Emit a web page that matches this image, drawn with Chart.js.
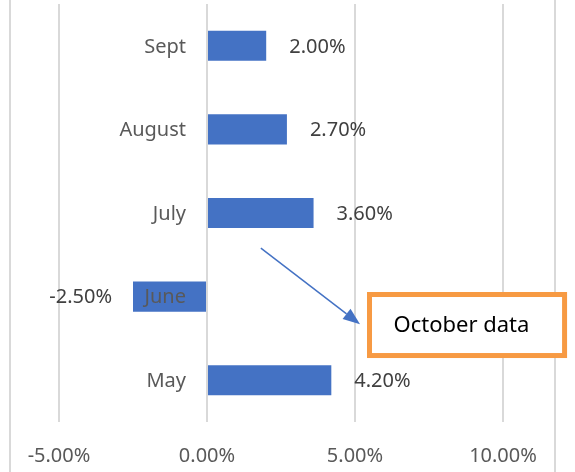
<!DOCTYPE html>
<html>
<head>
<meta charset="utf-8">
<script src="https://cdn.jsdelivr.net/npm/chart.js@4/dist/chart.umd.min.js"></script>
<style>
  html, body { margin: 0; padding: 0; background: #fff; }
</style>
</head>
<body>
<canvas id="chart" width="575" height="472"></canvas>
<script>
const months = ['Sept', 'August', 'July', 'June', 'May'];
const changePct = [2.0, 2.7, 3.6, -2.5, 4.2];
const xTicks = [-5, 0, 5, 10];

const FONT = '"Noto Sans", "Open Sans", sans-serif';
const BAR_COLOR = '#4472c4';
const GRID_COLOR = '#d9d9d9';

// callout: arrow and box, placed in axis units (x = percent, y = category index)
const callout = {
    text: 'October data',
    arrowFrom: { x: 1.82, y: 2.42 },
    arrowTo: { x: 5.17, y: 3.33 },
    box: { x1: 5.49, x2: 12.08, y1: 2.975, y2: 3.705 }
};

const fmtPct = v => Number(v).toFixed(2) + '%';

// outer frame lines on left and right edge
const framePlugin = {
    id: 'frame',
    beforeDraw(chart) {
        const { ctx, height } = chart;
        ctx.save();
        ctx.strokeStyle = GRID_COLOR;
        ctx.lineWidth = 2;
        [10, 555].forEach(x => {
            ctx.beginPath();
            ctx.moveTo(x, 0);
            ctx.lineTo(x, height);
            ctx.stroke();
        });
        ctx.restore();
    }
};

// category names next to the zero line, drawn over the bars like Excel does
const categoryLabels = {
    id: 'categoryLabels',
    afterDatasetsDraw(chart) {
        const { ctx, scales: { x, y } } = chart;
        const zeroX = x.getPixelForValue(0);
        ctx.save();
        ctx.font = '20px ' + FONT;
        ctx.fillStyle = '#595959';
        ctx.textAlign = 'right';
        ctx.textBaseline = 'middle';
        months.forEach((m, i) => {
            ctx.fillText(m, zeroX - 21, y.getPixelForValue(i) + 1);
        });
        ctx.restore();
    }
};

// value labels at the outer end of each bar
const valueLabels = {
    id: 'valueLabels',
    afterDatasetsDraw(chart) {
        const { ctx } = chart;
        const meta = chart.getDatasetMeta(0);
        ctx.save();
        ctx.font = '20px ' + FONT;
        ctx.fillStyle = '#404040';
        ctx.textBaseline = 'middle';
        meta.data.forEach((bar, i) => {
            const v = changePct[i];
            if (v >= 0) {
                ctx.textAlign = 'left';
                ctx.fillText(fmtPct(v), bar.x + 23, bar.y + 1);
            } else {
                ctx.textAlign = 'right';
                ctx.fillText(fmtPct(v), bar.x - 21, bar.y + 1);
            }
        });
        ctx.restore();
    }
};

const calloutPlugin = {
    id: 'callout',
    afterDraw(chart) {
        const { ctx, scales: { x, y } } = chart;
        const band = y.getPixelForValue(1) - y.getPixelForValue(0);
        const py = v => y.getPixelForValue(0) + v * band;
        const x0 = x.getPixelForValue(callout.arrowFrom.x), y0 = py(callout.arrowFrom.y);
        const x1 = x.getPixelForValue(callout.arrowTo.x), y1 = py(callout.arrowTo.y);
        const ang = Math.atan2(y1 - y0, x1 - x0);
        const head = 17, half = 6.5;
        const bx = x1 - Math.cos(ang) * head, by = y1 - Math.sin(ang) * head;

        ctx.save();
        ctx.strokeStyle = BAR_COLOR;
        ctx.fillStyle = BAR_COLOR;
        ctx.lineWidth = 1.5;
        ctx.beginPath();
        ctx.moveTo(x0, y0);
        ctx.lineTo(bx, by);
        ctx.stroke();
        ctx.beginPath();
        ctx.moveTo(x1, y1);
        ctx.lineTo(bx + Math.sin(ang) * half, by - Math.cos(ang) * half);
        ctx.lineTo(bx - Math.sin(ang) * half, by + Math.cos(ang) * half);
        ctx.closePath();
        ctx.fill();

        const b = callout.box;
        const bl = x.getPixelForValue(b.x1), br = x.getPixelForValue(b.x2);
        const bt = py(b.y1), bb = py(b.y2);
        ctx.fillStyle = '#ffffff';
        ctx.fillRect(bl, bt, br - bl, bb - bt);
        ctx.strokeStyle = '#f79a43';
        ctx.lineWidth = 5;
        ctx.strokeRect(bl, bt, br - bl, bb - bt);
        ctx.fillStyle = '#000000';
        ctx.font = '22px ' + FONT;
        ctx.textAlign = 'left';
        ctx.textBaseline = 'middle';
        ctx.fillText(callout.text, bl + 24, (bt + bb) / 2 + 1);
        ctx.restore();
    }
};

new Chart(document.getElementById('chart').getContext('2d'), {
    type: 'bar',
    data: {
        labels: months,
        datasets: [{
            data: changePct,
            backgroundColor: BAR_COLOR,
            barPercentage: 0.36,
            categoryPercentage: 1
        }]
    },
    options: {
        indexAxis: 'y',
        responsive: false,
        animation: false,
        layout: { padding: { left: 59, right: 72, top: 4, bottom: 4 } },
        plugins: {
            legend: { display: false },
            tooltip: { enabled: false }
        },
        scales: {
            x: {
                type: 'linear',
                min: xTicks[0],
                max: xTicks[xTicks.length - 1],
                afterBuildTicks: scale => { scale.ticks = xTicks.map(v => ({ value: v })); },
                afterFit: scale => { scale.height = 46; },
                grid: { color: GRID_COLOR, lineWidth: 2, drawTicks: false },
                border: { display: false },
                ticks: {
                    padding: 22,
                    maxRotation: 0,
                    color: '#595959',
                    font: { family: FONT, size: 20 },
                    callback: v => fmtPct(v)
                }
            },
            y: {
                display: false
            }
        }
    },
    plugins: [framePlugin, categoryLabels, valueLabels, calloutPlugin]
});
</script>
</body>
</html>
